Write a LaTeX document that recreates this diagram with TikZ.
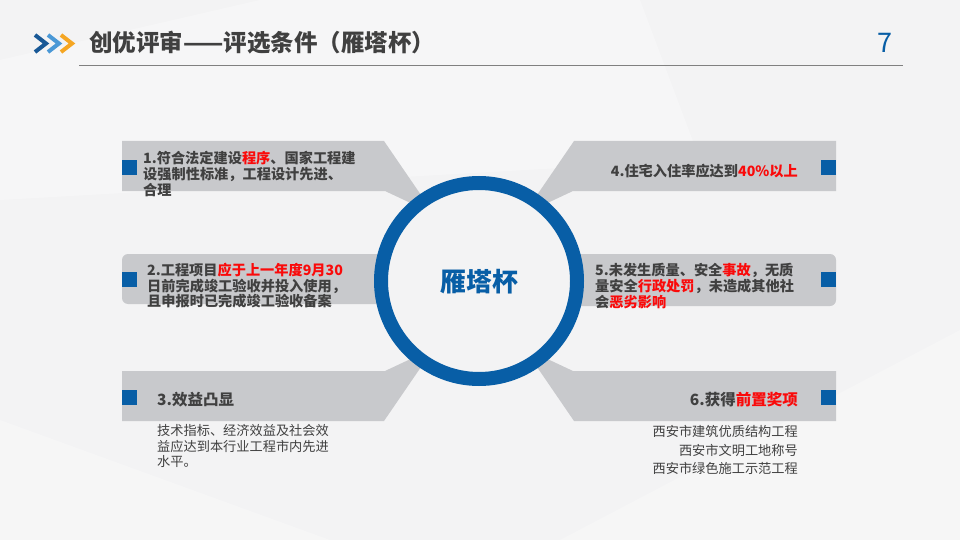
\documentclass[tikz,border=0pt]{standalone}
\usepackage{fontspec}
\setmainfont{Noto Sans CJK SC}
\definecolor{bgc}{RGB}{243,243,244}
\definecolor{boxc}{RGB}{200,201,204}
\definecolor{ringc}{RGB}{8,94,166}
\definecolor{txtc}{RGB}{64,64,64}
\definecolor{redc}{RGB}{250,10,10}
\definecolor{chA}{RGB}{24,88,150}
\definecolor{chB}{RGB}{74,152,214}
\definecolor{chC}{RGB}{245,166,35}
\newcommand{\rd}[1]{\textcolor{redc}{#1}}
\tikzset{
  band/.style={fill=boxc, draw=none},
  sq/.style={fill=ringc, draw=none},
  itemtxt/.style={inner sep=0pt, text=txtc, font=\fontsize{14.2}{15.6}\selectfont\bfseries},
  headtxt/.style={inner sep=0pt, text=txtc, font=\fontsize{15.5}{17}\selectfont\bfseries},
  bodytxt/.style={inner sep=0pt, text=txtc, font=\fontsize{13.2}{15.2}\selectfont},
  chev/.style={line width=4pt, line cap=butt, line join=miter}
}
\begin{document}
\begin{tikzpicture}[x=1pt,y=-1pt]
\useasboundingbox (0,0) rectangle (960,540);
% background
\fill[bgc] (0,0) rectangle (960,540);
\fill[white, opacity=0.3] (0,60) -- (260,0) -- (640,0) -- (700,160) -- (0,200) -- cycle;
\fill[white, opacity=0.25] (0,540) -- (0,420) -- (330,540) -- cycle;
\fill[white, opacity=0.25] (560,540) -- (960,330) -- (960,540) -- cycle;
% header
\draw[chev, chA] (35,35) -- (46,43.5) -- (35,52);
\draw[chev, chB] (48,35) -- (59,43.5) -- (48,52);
\draw[chev, chC] (61,35) -- (72,43.5) -- (61,52);
\node[anchor=west, inner sep=0pt, text=txtc, font=\fontsize{23.5}{25}\selectfont\bfseries] (title) at (89,43) {创优评审——评选条件（雁塔杯）};
\node[inner sep=0pt, text=ringc, font=\fontsize{27}{28}\selectfont] (page) at (885,43) {7};
\coordinate (hl) at (79,65);
\coordinate (hr) at (903,65);
\draw[gray, line width=0.9pt] (hl) -- (hr);
% bands
\fill[band] (122,141) -- (384,141) -- (434,214) -- (385,191) -- (122,191) -- cycle;
\fill[band] (836,141) -- (574,141) -- (524,214) -- (573,191) -- (836,191) -- cycle;
\fill[band, rounded corners=6pt] (122,254) rectangle (430,304);
\fill[band, rounded corners=6pt] (528,254) rectangle (836,306);
\fill[band] (122,421) -- (384,421) -- (434,348) -- (385,371) -- (122,371) -- cycle;
\fill[band] (836,421) -- (574,421) -- (524,348) -- (573,371) -- (836,371) -- cycle;
% blue squares
\fill[sq] (122,160) rectangle (137,175);
\fill[sq] (122,272) rectangle (137,287);
\fill[sq] (122,390) rectangle (137,405);
\fill[sq] (821,160) rectangle (836,175);
\fill[sq] (821,272) rectangle (836,287);
\fill[sq] (821,390) rectangle (836,405);
% circle
\node[circle, minimum size=196pt, inner sep=0pt, draw=ringc, line width=14pt, fill=bgc] (hub) at (479,281) {};
\node[text=ringc, inner sep=0pt, font=\fontsize{26}{28}\selectfont\bfseries] (hubtxt) at (479,282) {雁塔杯};
% texts
\node[itemtxt, anchor=west, align=left] (t1) at (143,174) {1.符合法定建设\rd{程序}、国家工程建\\设强制性标准，工程设计先进、\\合理};
\node[itemtxt, anchor=east] (t4) at (798,171) {4.住宅入住率应达到\rd{40\%以上}};
\node[itemtxt, anchor=west, align=left] (t2) at (147,286) {2.工程项目\rd{应于上一年度9月30}\\日前完成竣工验收并投入使用，\\且申报时已完成竣工验收备案};
\node[itemtxt, anchor=west, align=left] (t5) at (595,286) {5.未发生质量、安全\rd{事故}，无质\\量安全\rd{行政处罚}，未造成其他社\\会\rd{恶劣影响}};
\node[headtxt, anchor=west] (t3) at (157,400) {3.效益凸显};
\node[headtxt, anchor=east] (t6) at (798,400) {6.获得\rd{前置奖项}};
\node[bodytxt, anchor=west, align=left] (b3) at (157,446) {技术指标、经济效益及社会效\\益应达到本行业工程市内先进\\水平。};
\node[bodytxt, anchor=east, align=right, font=\fontsize{13.2}{18.5}\selectfont] (b6) at (798,450) {西安市建筑优质结构工程\\西安市文明工地称号\\西安市绿色施工示范工程};
\end{tikzpicture}
\end{document}
